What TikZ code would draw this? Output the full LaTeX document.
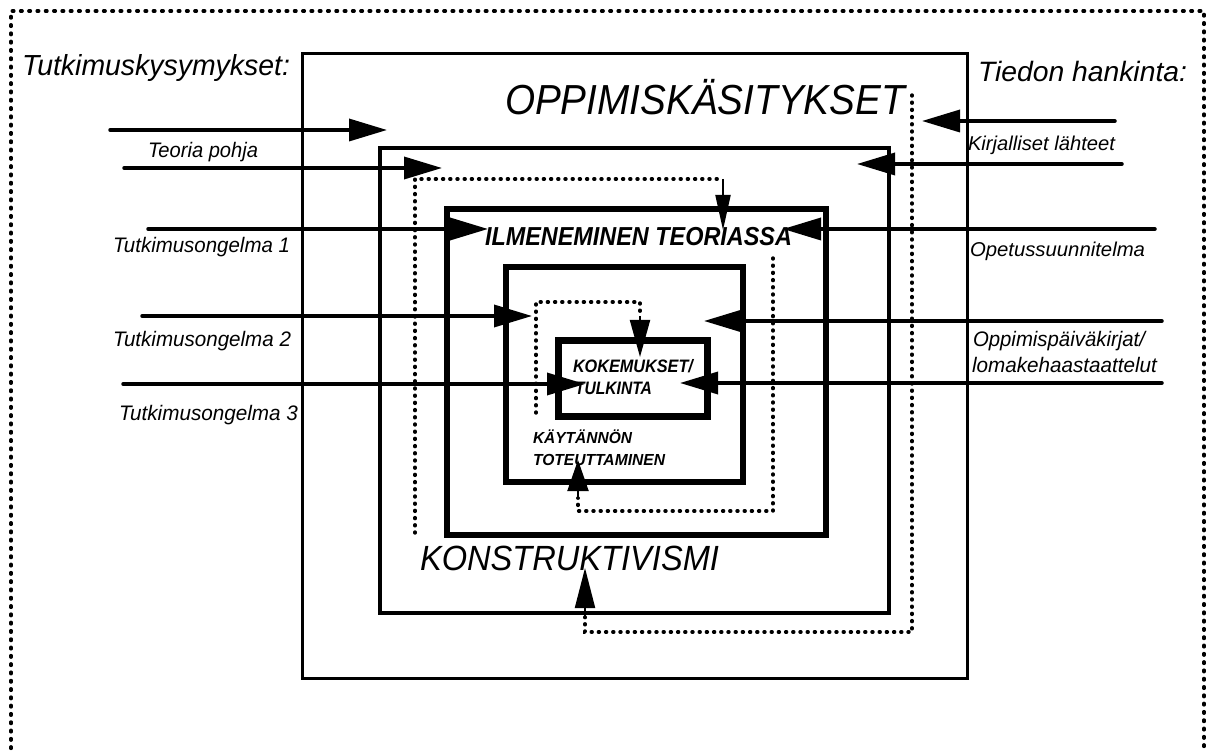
\documentclass[tikz,border=0pt]{standalone}
\usepackage{fontspec}
\setmainfont{Liberation Sans}
\usetikzlibrary{arrows.meta}
% text at a given size, stretched or squeezed to a given width
\newcommand{\sizedtext}[3]{\fontsize{#1}{#1}\selectfont\resizebox{#2}{\height}{#3}}
\begin{document}
\begin{tikzpicture}[x=1pt,y=-1pt,
  boxline/.style={draw, line width=#1, inner sep=0pt, outer sep=0pt},
  lbl/.style={anchor=base west, inner sep=0pt, outer sep=0pt, font=\itshape},
  blbl/.style={anchor=base west, inner sep=0pt, outer sep=0pt, font=\bfseries\itshape},
  inarrow/.style={line width=3.5pt, line cap=round, -{Triangle[length=38pt,width=22pt]}},
  dotline/.style={line width=3.4pt, line cap=round, dash pattern=on 1pt off 6.2pt},
  borderdots/.style={line width=3.3pt, line cap=round, dash pattern=on 1.7pt off 6.6pt},
]
\fill[white] (0,0) rectangle (1213,751);
\useasboundingbox (0,0) rectangle (1213,751);

% dotted outer frame, running off the bottom of the page
\begin{scope}
  \clip (0,0) rectangle (1213,751);
  \draw[borderdots] (11,790) -- (11,11) -- (1204,11) -- (1204,790);
\end{scope}

% nested frames
\node[boxline=3pt, minimum width=665pt, minimum height=624pt] (oppi) at (634.5,366) {};
\node[boxline=4.5pt, minimum width=509pt, minimum height=465pt] (konstr) at (634.5,380.5) {};
\node[boxline=6.5pt, minimum width=379pt, minimum height=326pt] (ilmen) at (636.5,372) {};
\node[boxline=6.5pt, minimum width=237pt, minimum height=215pt] (kayt) at (624.5,374.5) {};
\node[boxline=7pt, minimum width=149pt, minimum height=75pt] (kokem) at (632.5,378.5) {};

% labels
\node[lbl] (tkys) at (22,76) {\sizedtext{29pt}{268pt}{Tutkimuskysymykset:}};
\node[lbl] (tied) at (978,82) {\sizedtext{28pt}{209pt}{Tiedon hankinta:}};
\node[lbl] (toppi) at (505,115) {\sizedtext{42pt}{400pt}{OPPIMISKÄSITYKSET}};
\node[lbl] (tteor) at (148,158) {\sizedtext{21pt}{110pt}{Teoria pohja}};
\node[lbl] (tong1) at (113,253) {\sizedtext{21pt}{177pt}{Tutkimusongelma 1}};
\node[lbl] (tong2) at (113,346) {\sizedtext{21pt}{178pt}{Tutkimusongelma 2}};
\node[lbl] (tong3) at (119,420) {\sizedtext{21pt}{179pt}{Tutkimusongelma 3}};
\node[lbl] (tkirj) at (968,151) {\sizedtext{20pt}{147pt}{Kirjalliset lähteet}};
\node[lbl] (topet) at (970,257) {\sizedtext{20pt}{175pt}{Opetussuunnitelma}};
\node[lbl] (tpaiv) at (973,347) {\sizedtext{21pt}{172pt}{Oppimispäiväkirjat/}};
\node[lbl] (tlom) at (972,373) {\sizedtext{21pt}{185pt}{lomakehaastaattelut}};
\node[blbl] (tilm) at (485,246) {\sizedtext{26pt}{307pt}{ILMENEMINEN TEORIASSA}};
\node[blbl] (tkok) at (573,372) {\sizedtext{18pt}{120pt}{KOKEMUKSET/}};
\node[blbl] (ttul) at (575,394) {\sizedtext{18pt}{77pt}{TULKINTA}};
\node[blbl] (tkay) at (533,443) {\sizedtext{16pt}{99pt}{KÄYTÄNNÖN}};
\node[blbl] (ttot) at (533,465) {\sizedtext{16pt}{132pt}{TOTEUTTAMINEN}};
\node[lbl] (tkon) at (420,570) {\sizedtext{35pt}{299pt}{KONSTRUKTIVISMI}};

% research questions coming in from the left
\coordinate (l1) at (110,130);  \coordinate (l1e) at (387,130);
\coordinate (l2) at (124,168);  \coordinate (l2e) at (442,168);
\coordinate (l3) at (148,229);  \coordinate (l3e) at (488,229);
\coordinate (l4) at (142,316);  \coordinate (l4e) at (532,316);
\coordinate (l5) at (123,384);  \coordinate (l5e) at (585,384);
\draw[inarrow] (l1) -- (l1e);
\draw[inarrow] (l2) -- (l2e);
\draw[inarrow] (l3) -- (l3e);
\draw[inarrow] (l4) -- (l4e);
\draw[inarrow] (l5) -- (l5e);

% data sources coming in from the right
\coordinate (r1) at (1115,121); \coordinate (r1e) at (922,121);
\coordinate (r2) at (1122,164); \coordinate (r2e) at (857,164);
\coordinate (r3) at (1155,229); \coordinate (r3e) at (783,229);
\coordinate (r4) at (1162,321); \coordinate (r4e) at (704,321);
\coordinate (r5) at (1162,383); \coordinate (r5e) at (680,383);
\draw[inarrow] (r1) -- (r1e);
\draw[inarrow] (r2) -- (r2e);
\draw[inarrow] (r3) -- (r3e);
\draw[inarrow] (r4) -- (r4e);
\draw[inarrow] (r5) -- (r5e);

% dotted feedback loops
\coordinate (p1a) at (415,533); \coordinate (p1b) at (415,179);
\coordinate (p1c) at (723,179); \coordinate (p1d) at (723,230);
\draw[dotline] (p1a) -- (p1b) -- (p1c);
\draw[line width=2pt, -{Triangle[length=35pt,width=15pt]}] (p1c) -- (p1d);

\coordinate (p2a) at (912,95);  \coordinate (p2b) at (912,632);
\coordinate (p2c) at (585,632); \coordinate (p2d) at (585,617);
\coordinate (p2e) at (585,568);
\draw[dotline] (p2a) -- (p2b) -- (p2c) -- (p2d);
\draw[line width=2pt, -{Triangle[length=40pt,width=20pt]}] (p2d) -- (p2e);

\coordinate (p3a) at (536,413); \coordinate (p3b) at (536,302);
\coordinate (p3c) at (640,302); \coordinate (p3d) at (640,316);
\coordinate (p3e) at (640,357);
\draw[dotline] (p3a) -- (p3b) -- (p3c) -- (p3d);
\draw[line width=2pt, -{Triangle[length=37pt,width=20pt]}] (p3d) -- (p3e);

\coordinate (p4a) at (773,258); \coordinate (p4b) at (773,511);
\coordinate (p4c) at (578,511); \coordinate (p4d) at (578,498);
\coordinate (p4e) at (578,460);
\draw[dotline] (p4a) -- (p4b) -- (p4c) -- (p4d);
\draw[line width=2pt, -{Triangle[length=31pt,width=21pt]}] (p4d) -- (p4e);
\end{tikzpicture}
\end{document}
